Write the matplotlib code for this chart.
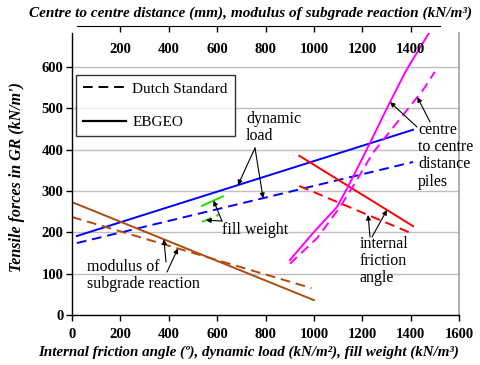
import numpy as np
import matplotlib
matplotlib.use("Agg")
import matplotlib.pyplot as plt
from matplotlib.lines import Line2D

plt.rcParams['font.family'] = ['Liberation Serif', 'DejaVu Serif']

# ---- data ----
dyn_x = [20, 1410]
dyn_ebgeo = [191, 448]
dyn_dutch = [174, 370]

mod_x_ebgeo = [0, 1000]
mod_ebgeo = [273, 36]
mod_x_dutch = [0, 990]
mod_dutch = [237, 65]

fric_x = [940, 1410]
fric_ebgeo = [385, 215]
fric_dutch = [312, 196]

fill_x_ebgeo = [537, 624]
fill_ebgeo = [264, 287]
fill_x_dutch = [537, 608]
fill_dutch = [225, 243]

ctc_x_ebgeo = [901, 996, 1095, 1141, 1191, 1232, 1302, 1380, 1476]
ctc_ebgeo = [133, 198, 261, 310, 368, 416, 500, 590, 682]
ctc_x_dutch = [901, 1013, 1108, 1170, 1244, 1286, 1451, 1500]
ctc_dutch = [124, 186, 261, 319, 392, 423, 544, 588]

x_ticks = [0, 200, 400, 600, 800, 1000, 1200, 1400, 1600]
top_ticks = [200, 400, 600, 800, 1000, 1200, 1400]
y_ticks = [0, 100, 200, 300, 400, 500, 600]

# ---- figure ----
W, H = 480, 365
fig = plt.figure(figsize=(4.8, 3.65), dpi=100)
L, R, B, T = 72, 459, 315, 33
YMAX = 682
ax = fig.add_axes([L / W, 1 - B / H, (R - L) / W, (B - T) / H])
ax.set_xlim(0, 1600)
ax.set_ylim(0, YMAX)

blue, brown, red, mag, green = '#0000FF', '#B04A10', '#FF0000', '#FF00FF', '#22E000'
lw = 1.4
dash = (5, 3)

ax.plot(dyn_x, dyn_ebgeo, color=blue, lw=lw)
ax.plot(dyn_x, dyn_dutch, color=blue, lw=lw, dashes=dash)
ax.plot(mod_x_ebgeo, mod_ebgeo, color=brown, lw=lw)
ax.plot(mod_x_dutch, mod_dutch, color=brown, lw=lw, dashes=dash)
ax.plot(fric_x, fric_ebgeo, color=red, lw=lw)
ax.plot(fric_x, fric_dutch, color=red, lw=lw, dashes=dash)
ax.plot(fill_x_ebgeo, fill_ebgeo, color=green, lw=lw)
ax.plot(fill_x_dutch, fill_dutch, color=green, lw=lw, dashes=dash)
ax.plot(ctc_x_ebgeo, ctc_ebgeo, color=mag, lw=lw)
ax.plot(ctc_x_dutch, ctc_dutch, color=mag, lw=lw, dashes=dash)

# axes styling
ax.set_xticks(x_ticks)
ax.set_yticks(y_ticks)
ax.yaxis.grid(True, color='#BFBFBF', lw=1)
ax.set_axisbelow(True)
ax.spines['top'].set_visible(False)
ax.spines['right'].set_color('#A0A0A0')
ax.spines['right'].set_linewidth(1.2)
ax.spines['left'].set_linewidth(1.0)
ax.spines['bottom'].set_linewidth(1.0)
ax.tick_params(axis='both', direction='out', length=4, width=1, labelsize=10.5, pad=2)
ax.tick_params(axis='x', pad=5)
for lab in ax.get_xticklabels() + ax.get_yticklabels():
    lab.set_fontweight('bold')

# top secondary axis (shorter, Excel style)
tl, tr, ty = 77, 440, 26
ax2 = fig.add_axes([tl / W, 1 - ty / H, (tr - tl) / W, 0.0001])
ax2.set_xlim((tl - L) / (R - L) * 1600, (tr - L) / (R - L) * 1600)
ax2.set_yticks([])
for s in ['top', 'left', 'right']:
    ax2.spines[s].set_visible(False)
ax2.patch.set_alpha(0)
ax2.set_xticks(top_ticks)
ax2.tick_params(axis='x', direction='out', length=4, width=1, labelsize=10.5, pad=8)
for lab in ax2.get_xticklabels():
    lab.set_fontweight('bold')

# labels
fig.text(251 / W, 1 - 13 / H,
         'Centre to centre distance (mm), modulus of subgrade reaction (kN/m\u00b3)',
         ha='center', va='center', fontsize=11, fontweight='bold', style='italic')
fig.text(249 / W, 1 - 352 / H,
         'Internal friction angle (\u00ba), dynamic load (kN/m\u00b2), fill weight (kN/m\u00b3)',
         ha='center', va='center', fontsize=10.8, fontweight='bold', style='italic')
fig.text(17 / W, 1 - 177 / H, "Tensile forces in GR (kN/m')", rotation=90,
         ha='center', va='center', fontsize=11.5, fontweight='bold', style='italic')

# legend
handles = [Line2D([], [], color='black', lw=1.4, dashes=dash),
           Line2D([], [], color='black', lw=1.6)]
leg = ax.legend(handles, ['Dutch Standard', 'EBGEO'], loc='upper left',
                bbox_to_anchor=(0.010, 0.851), fontsize=11, frameon=True,
                fancybox=False, edgecolor='black', handlelength=2.8,
                labelspacing=1.3, borderpad=0.45, handletextpad=0.45,
                borderaxespad=0)
leg.get_frame().set_linewidth(1.0)

# annotations
ap = dict(arrowstyle='-|>', color='black', lw=0.8, mutation_scale=7, shrinkA=0, shrinkB=0)
fs = 11.5
lsp = 1.1

def px2d(px, py):
    return ((px - L) / (R - L) * 1600, (B - py) / (B - T) * YMAX)

# dynamic load
tx, ty_ = px2d(246, 111)
ax.text(tx, ty_, 'dynamic\nload', ha='left', va='top', fontsize=fs, linespacing=lsp)
sx, sy = px2d(255, 148)
for xs, ys, xt in [(dyn_x, dyn_ebgeo, 686), (dyn_x, dyn_dutch, 790)]:
    ax.annotate('', xy=(xt, np.interp(xt, xs, ys)), xytext=(sx, sy), arrowprops=ap)

# fill weight
tx, ty_ = px2d(222, 230)
ax.text(tx, ty_, 'fill weight', ha='left', va='center', fontsize=fs)
sx, sy = px2d(222, 221)
for xs, ys, xt in [(fill_x_ebgeo, fill_ebgeo, 585), (fill_x_dutch, fill_dutch, 554)]:
    ax.annotate('', xy=(xt, np.interp(xt, xs, ys)), xytext=(sx, sy), arrowprops=ap)

# modulus of subgrade reaction
tx, ty_ = px2d(87, 259)
ax.text(tx, ty_, 'modulus of\nsubgrade reaction', ha='left', va='top', fontsize=fs, linespacing=lsp)
for xs, ys, xt, sp in [(mod_x_ebgeo, mod_ebgeo, 380, (166, 262)), (mod_x_dutch, mod_dutch, 438, (167, 272))]:
    ax.annotate('', xy=(xt, np.interp(xt, xs, ys)), xytext=px2d(*sp), arrowprops=ap)

# centre to centre distance piles
tx, ty_ = px2d(418, 122)
ax.text(tx, ty_, 'centre\nto centre\ndistance\npiles', ha='left', va='top', fontsize=fs, linespacing=lsp)
for xs, ys, yt, sp in [(ctc_x_ebgeo, ctc_ebgeo, 515, (417, 127)), (ctc_x_dutch, ctc_dutch, 527, (430, 122))]:
    ax.annotate('', xy=(np.interp(yt, ys, xs), yt), xytext=px2d(*sp), arrowprops=ap)

# internal friction angle
tx, ty_ = px2d(360, 236)
ax.text(tx, ty_, 'internal\nfriction\nangle', ha='left', va='top', fontsize=fs, linespacing=lsp)
for xs, ys, xt, sp in [(fric_x, fric_dutch, 1224, (370, 237)), (fric_x, fric_ebgeo, 1302, (372, 237))]:
    ax.annotate('', xy=(xt, np.interp(xt, xs, ys)), xytext=px2d(*sp), arrowprops=ap)

fig.savefig('out.png', dpi=100)
